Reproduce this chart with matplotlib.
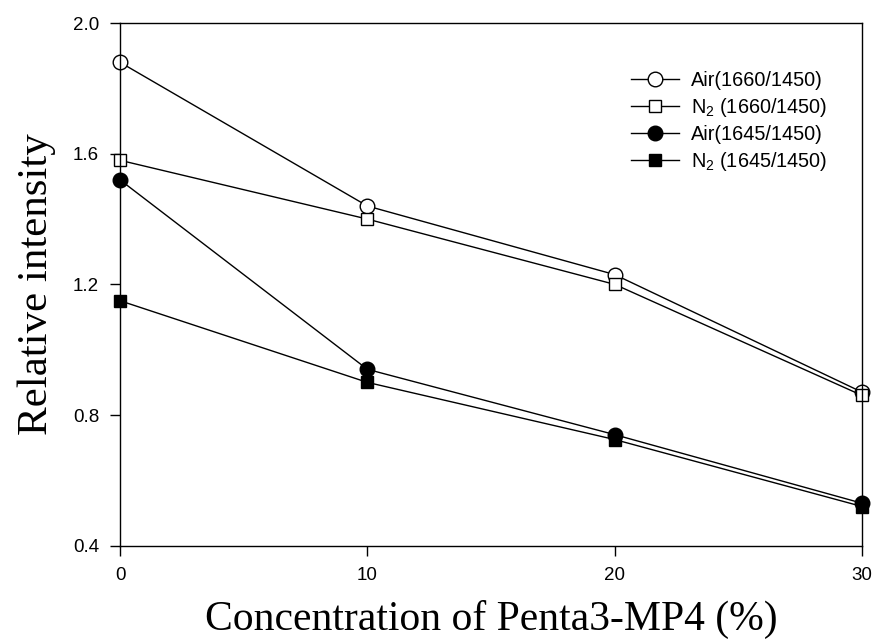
import matplotlib.pyplot as plt

# data
conc = [0, 10, 20, 30]
air_1660 = [1.88, 1.44, 1.23, 0.87]
n2_1660 = [1.58, 1.40, 1.20, 0.86]
air_1645 = [1.52, 0.94, 0.74, 0.53]
n2_1645 = [1.15, 0.90, 0.725, 0.52]

labels = ["Air(1660/1450)", r"N$_2$ (1660/1450)", "Air(1645/1450)", r"N$_2$ (1645/1450)"]

plt.rcParams['font.family'] = 'Liberation Sans'
plt.rcParams['mathtext.fontset'] = 'custom'
plt.rcParams['mathtext.rm'] = 'Liberation Sans'

fig = plt.figure(figsize=(8.73, 6.42), dpi=100)
ax = fig.add_axes([0.1375, 0.150, 0.850, 0.814])

style = dict(color="black", lw=1, mec="black", clip_on=False)
ax.plot(conc, air_1660, marker="o", ms=10.5, mfc="white", mew=1, label=labels[0], **style)
ax.plot(conc, n2_1660, marker="s", ms=9, mfc="white", mew=1, label=labels[1], **style)
ax.plot(conc, air_1645, marker="o", ms=10.5, mfc="black", label=labels[2], **style)
ax.plot(conc, n2_1645, marker="s", ms=9, mfc="black", label=labels[3], **style)

ax.set_xlim(0, 30)
ax.set_ylim(0.4, 2.0)
ax.set_xticks([0, 10, 20, 30])
ax.set_yticks([0.4, 0.8, 1.2, 1.6, 2.0])
ax.set_yticklabels(["0.4", "0.8", "1.2", "1.6", "2.0"])
ax.tick_params(direction="out", length=7, width=1, labelsize=13.5, pad=8)
for s in ax.spines.values():
    s.set_linewidth(1)

ax.set_xlabel("Concentration of Penta3-MP4 (%)", family="Liberation Serif", fontsize=30, labelpad=12)
ax.set_ylabel("Relative intensity", family="Liberation Serif", fontsize=31, labelpad=12)

ax.legend(loc="upper left", bbox_to_anchor=(0.689, 0.908), frameon=False, fontsize=14.3,
          borderpad=0, borderaxespad=0, handlelength=2.4, labelspacing=0.3, handletextpad=0.6)

fig.savefig("out.png", dpi=100)
